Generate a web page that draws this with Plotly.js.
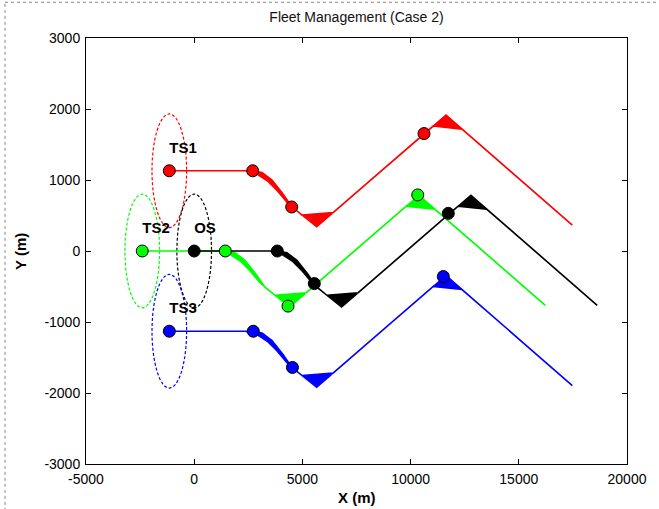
<!DOCTYPE html>
<html>
<head>
<meta charset="utf-8">
<script src="https://cdn.plot.ly/plotly-3.0.1.min.js"></script>
<style>html,body{margin:0;padding:0;background:#fff}#plot{width:659px;height:509px}</style>
</head>
<body>
<div id="plot"></div>
<script>
// ---- data (metres) ----
const vesselNames = ['TS1', 'TS2', 'OS', 'TS3'];
const vesselColors = ['#ff0000', '#00ff00', '#000000', '#0000ff'];

// start positions (centres of the dashed safety circles)
const startX = [-1150, -2400, 0, -1150];
const startY = [1130, 0, 0, -1130];
const circleRadius = [800, 800, 800, 800];

// outer edge of each track
const ts1OuterX = [-1150, 2704, 3134, 3596, 4104, 4520, 5661, 11637, 17473];
const ts1OuterY = [1130, 1130, 1105, 999, 802, 619, 341, 1915, 365];
const ts2OuterX = [-2400, 1454, 1884, 2346, 2854, 3270, 4411, 10387, 16223];
const ts2OuterY = [0, 0, -25, -131, -328, -511, -789, 785, -765];
const osOuterX  = [0, 3854, 4284, 4746, 5254, 5670, 6811, 12787, 18623];
const osOuterY  = [0, 0, -25, -131, -328, -511, -789, 785, -765];
const ts3OuterX = [-1150, 2704, 3134, 3596, 4104, 4520, 5661, 11637, 17473];
const ts3OuterY = [-1130, -1130, -1155, -1261, -1458, -1641, -1919, -345, -1895];

// inner edge of each track (corner-cutting runs)
const ts1InnerX = [-1150, 2362, 2917, 3379, 3841, 4303, 4626, 4982, 6415, 11036, 12376, 17473];
const ts1InnerY = [1130, 1130, 1081, 989, 848, 679, 593, 506, 540, 1760, 1717, 365];
const ts2InnerX = [-2400, 1112, 1667, 2129, 2591, 3053, 3376, 3732, 5165, 9786, 11126, 16223];
const ts2InnerY = [0, 0, -49, -141, -282, -451, -537, -624, -590, 630, 587, -765];
const osInnerX  = [0, 3512, 4067, 4529, 4991, 5453, 5776, 6132, 7565, 12186, 13526, 18623];
const osInnerY  = [0, 0, -49, -141, -282, -451, -537, -624, -590, 630, 587, -765];
const ts3InnerX = [-1150, 2362, 2917, 3379, 3841, 4303, 4626, 4982, 6415, 11036, 12376, 17473];
const ts3InnerY = [-1130, -1130, -1179, -1271, -1412, -1581, -1667, -1754, -1720, -500, -543, -1895];

// snapshot positions (circle markers)
const ts1SnapX = [-1150, 2704, 4506, 10619];
const ts1SnapY = [1130, 1130, 620, 1654];
const ts2SnapX = [-2400, 1437, 4335, 10330];
const ts2SnapY = [0, 0, -776, 790];
const osSnapX  = [0, 3840, 5550, 11742];
const osSnapY  = [0, 0, -459, 530];
const ts3SnapX = [-1150, 2731, 4540, 11511];
const ts3SnapY = [-1130, -1130, -1640, -360];

// name labels
const labelX = [-1150, -2400, 0, -1150];
const labelY = [1430, 306, 306, -825];

// axis ticks
const xTickVals = [-5000, 0, 5000, 10000, 15000, 20000];
const xTickText = ['-5000', '0', '5000', '10000', '15000', '20000'];
const yTickVals = [-3000, -2000, -1000, 0, 1000, 2000, 3000];
const yTickText = ['-3000', '-2000', '-1000', '0', '1000', '2000', '3000'];

// ---- build traces ----
const outerX = [ts1OuterX, ts2OuterX, osOuterX, ts3OuterX];
const outerY = [ts1OuterY, ts2OuterY, osOuterY, ts3OuterY];
const innerX = [ts1InnerX, ts2InnerX, osInnerX, ts3InnerX];
const innerY = [ts1InnerY, ts2InnerY, osInnerY, ts3InnerY];
const snapX = [ts1SnapX, ts2SnapX, osSnapX, ts3SnapX];
const snapY = [ts1SnapY, ts2SnapY, osSnapY, ts3SnapY];

const traces = [];
for (let i = 0; i < 4; i++) {
  traces.push({
    type: 'scatter', mode: 'lines',
    x: outerX[i].concat(innerX[i].slice().reverse()),
    y: outerY[i].concat(innerY[i].slice().reverse()),
    fill: 'toself', fillcolor: vesselColors[i],
    line: {color: vesselColors[i], width: 1.6},
    hoverinfo: 'skip', showlegend: false
  });
}
for (let i = 0; i < 4; i++) {
  traces.push({
    type: 'scatter', mode: 'markers',
    x: snapX[i], y: snapY[i],
    marker: {color: vesselColors[i], size: 12, line: {color: '#000', width: 1}},
    name: vesselNames[i], showlegend: false
  });
}
traces.push({
  type: 'scatter', mode: 'text',
  x: labelX, y: labelY, text: vesselNames,
  textposition: 'middle right',
  textfont: {family: 'Liberation Sans, Arial, sans-serif', size: 15, color: '#000'},
  texttemplate: '<b>%{text}</b>',
  hoverinfo: 'skip', showlegend: false
});

const shapes = [];
for (let i = 0; i < 4; i++) {
  shapes.push({
    type: 'circle', xref: 'x', yref: 'y', layer: 'below',
    x0: startX[i] - circleRadius[i], x1: startX[i] + circleRadius[i],
    y0: startY[i] - circleRadius[i], y1: startY[i] + circleRadius[i],
    line: {color: vesselColors[i], width: 1.2, dash: '3px,2px'}
  });
}
// dotted frame of the captured window
shapes.push({type: 'line', xref: 'paper', yref: 'paper', x0: -0.1497, x1: -0.1497, y0: -0.11, y1: 1.0838,
  line: {color: '#888', width: 1, dash: 'dot'}});
shapes.push({type: 'line', xref: 'paper', yref: 'paper', x0: -0.1497, x1: 1.07, y0: 1.0838, y1: 1.0838,
  line: {color: '#888', width: 1, dash: 'dot'}});

const tickFont = {family: 'Liberation Sans, Arial, sans-serif', size: 14, color: '#000'};
const axisCommon = {
  showgrid: false, zeroline: false, showline: true, linecolor: '#000', linewidth: 1,
  mirror: 'ticks', ticks: 'inside', ticklen: 5, tickcolor: '#000', tickwidth: 1,
  tickfont: tickFont, automargin: false, tickmode: 'array', ticklabelstandoff: 2
};

const layout = {
  width: 659, height: 509,
  margin: {l: 86, r: 32, t: 38, b: 45},
  paper_bgcolor: '#fff', plot_bgcolor: '#fff',
  title: {text: 'Fleet Management (Case 2)', font: {family: 'Liberation Sans, Arial, sans-serif', size: 14, color: '#111'},
          x: 0.5, xref: 'paper', y: 1 - 17 / 509, yref: 'container', yanchor: 'middle'},
  xaxis: Object.assign({}, axisCommon, {range: [-5000, 20000], tickvals: xTickVals, ticktext: xTickText}),
  yaxis: Object.assign({}, axisCommon, {range: [-3000, 3000], tickvals: yTickVals, ticktext: yTickText}),
  shapes: shapes,
  annotations: [
    {text: '<b>X (m)</b>', xref: 'paper', yref: 'paper', x: 0.5, y: -0.078, xanchor: 'center', yanchor: 'middle',
     showarrow: false, font: {family: 'Liberation Sans, Arial, sans-serif', size: 15, color: '#000'}},
    {text: '<b>Y (m)</b>', xref: 'paper', yref: 'paper', x: -0.122, y: 0.5, xanchor: 'center', yanchor: 'middle',
     textangle: -90, showarrow: false, font: {family: 'Liberation Sans, Arial, sans-serif', size: 15, color: '#000'}}
  ]
};

Plotly.newPlot('plot', traces, layout, {staticPlot: true, displayModeBar: false});
</script>
</body>
</html>
